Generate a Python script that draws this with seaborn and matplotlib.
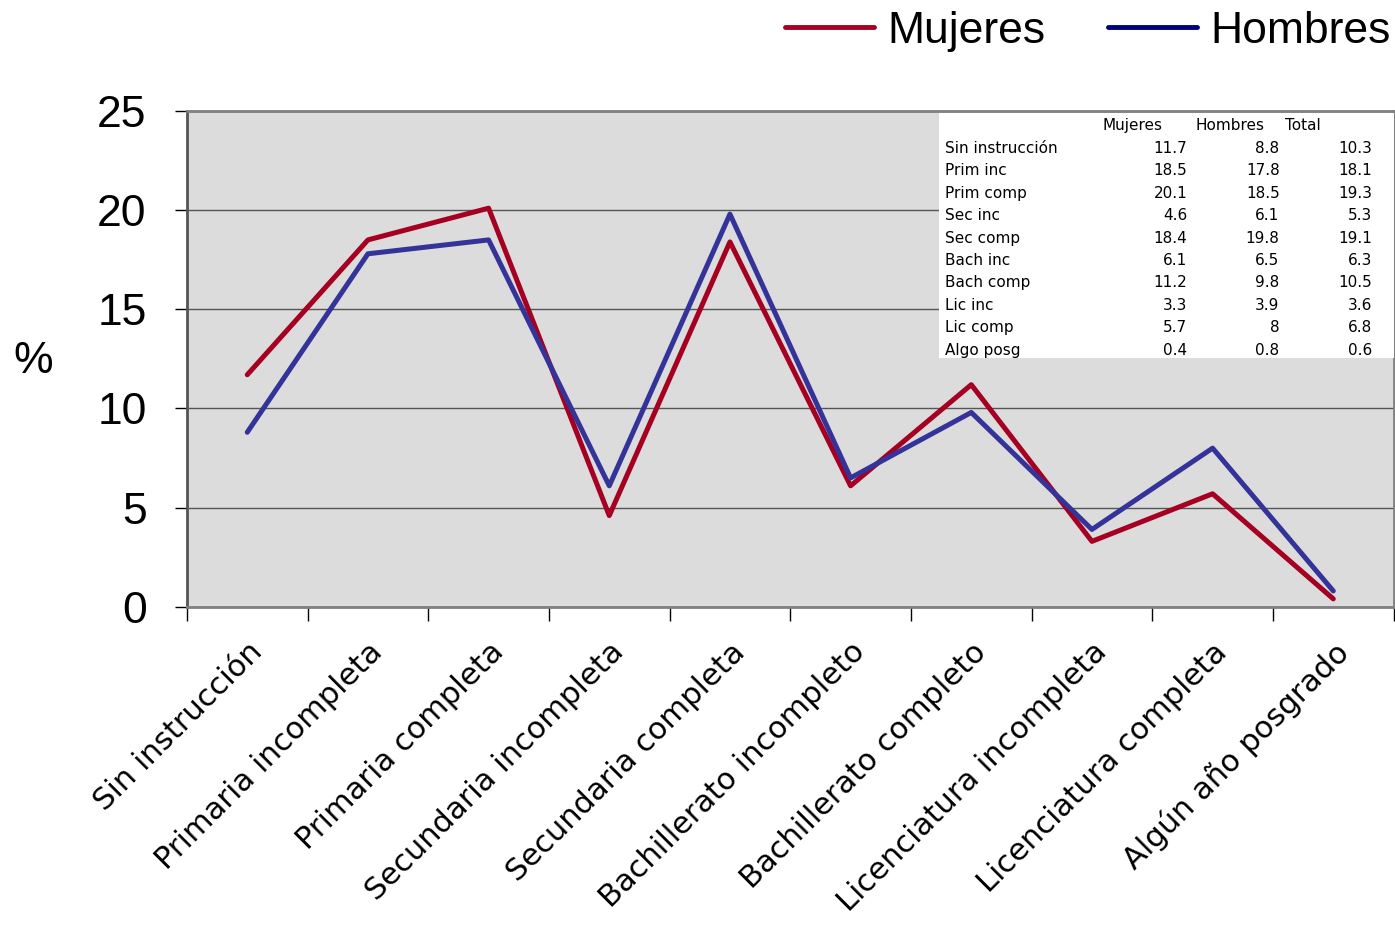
import seaborn as sns
import matplotlib.pyplot as plt
import matplotlib.patches as mpatches
import pandas as pd

categorias = ["Sin instrucción", "Primaria incompleta", "Primaria completa",
              "Secundaria incompleta", "Secundaria completa", "Bachillerato incompleto",
              "Bachillerato completo", "Licenciatura incompleta", "Licenciatura completa",
              "Algún año posgrado"]
abrev = ["Sin instrucción", "Prim inc", "Prim comp", "Sec inc", "Sec comp",
         "Bach inc", "Bach comp", "Lic inc", "Lic comp", "Algo posg"]
mujeres = [11.7, 18.5, 20.1, 4.6, 18.4, 6.1, 11.2, 3.3, 5.7, 0.4]
hombres = [8.8, 17.8, 18.5, 6.1, 19.8, 6.5, 9.8, 3.9, 8.0, 0.8]
total = [10.3, 18.1, 19.3, 5.3, 19.1, 6.3, 10.5, 3.6, 6.8, 0.6]
mujeres_txt = ["11.7", "18.5", "20.1", "4.6", "18.4", "6.1", "11.2", "3.3", "5.7", "0.4"]
hombres_txt = ["8.8", "17.8", "18.5", "6.1", "19.8", "6.5", "9.8", "3.9", "8", "0.8"]
total_txt = ["10.3", "18.1", "19.3", "5.3", "19.1", "6.3", "10.5", "3.6", "6.8", "0.6"]

df = pd.DataFrame({
    "Nivel": categorias * 2,
    "Porcentaje": mujeres + hombres,
    "Sexo": ["Mujeres"] * len(categorias) + ["Hombres"] * len(categorias),
})

sns.set_style("white")
plt.rcParams["font.family"] = ["Liberation Sans", "DejaVu Sans"]
plt.rcParams["text.color"] = "black"
plt.rcParams["xtick.color"] = "black"
plt.rcParams["ytick.color"] = "black"
plt.rcParams["axes.labelcolor"] = "black"

fig = plt.figure(figsize=(13.95, 9.25), dpi=100)
ax = fig.add_axes([0.134, 0.344, 0.865, 0.536])
ax.set_facecolor("#dcdcdc")

colores = {"Mujeres": "#a50021", "Hombres": "#333399"}
sns.lineplot(data=df, x="Nivel", y="Porcentaje", hue="Sexo", palette=colores,
             linewidth=3.6, sort=False, legend=False, ax=ax, zorder=3)

ax.set_xlim(-0.5, len(categorias) - 0.5)
ax.set_ylim(0, 25)
ax.set_yticks([0, 5, 10, 15, 20, 25])
ax.tick_params(axis="y", labelsize=32, length=9, width=1, direction="out", left=True, pad=20)
ax.yaxis.grid(True, color="#555555", linewidth=1)
ax.set_axisbelow(True)

# x ticks: marks at category boundaries, labels at centers
ax.set_xticks(range(len(categorias)))
ax.set_xticklabels(categorias, rotation=45, ha="right", rotation_mode="anchor",
                   fontsize=22, family="DejaVu Sans")
ax.set_xticks([i - 0.5 for i in range(len(categorias) + 1)], minor=True)
ax.tick_params(axis="x", which="major", length=0, pad=22)
ax.tick_params(axis="x", which="minor", length=10, width=1, direction="out", bottom=True)

for s in ax.spines.values():
    s.set_color("#808080")
    s.set_linewidth(2)
ax.spines["left"].set_color("#555555")

ax.set_xlabel("")
ax.set_ylabel("%", fontsize=32, rotation=0, va="center", ha="center")
ax.yaxis.set_label_coords(-0.127, 0.494)

# Inset data table
x0, y0 = 0.623, 0.502
ax.add_patch(mpatches.Rectangle((x0, y0), 1 - x0, 0.494, transform=ax.transAxes,
                                facecolor="white", edgecolor="none", zorder=4))
fs = 11
tf = "DejaVu Sans"
col_x = [0.829, 0.9055, 0.982]
ax.text(0.759, 0.970, "Mujeres", transform=ax.transAxes, fontsize=fs, va="center",
        family=tf, zorder=5)
ax.text(0.836, 0.970, "Hombres", transform=ax.transAxes, fontsize=fs, va="center",
        family=tf, zorder=5)
ax.text(0.910, 0.970, "Total", transform=ax.transAxes, fontsize=fs, va="center",
        family=tf, zorder=5)
for i in range(len(abrev)):
    yy = 0.925 - i * 0.0453
    ax.text(0.628, yy, abrev[i], transform=ax.transAxes, fontsize=fs, va="center",
            family=tf, zorder=5)
    for cx, col in zip(col_x, [mujeres_txt, hombres_txt, total_txt]):
        ax.text(cx, yy, col[i], transform=ax.transAxes, fontsize=fs, va="center",
                ha="right", family=tf, zorder=5)

# Legend above the plot
handles = [plt.Line2D([], [], color="#a50021", linewidth=3.5),
           plt.Line2D([], [], color="#000080", linewidth=3.5)]
fig.legend(handles, ["Mujeres", "Hombres"], loc="upper right", bbox_to_anchor=(1.0, 0.993),
           ncol=2, frameon=False, fontsize=32, handlelength=2.0, columnspacing=1.4,
           handletextpad=0.3, borderpad=0.0, borderaxespad=0.1)

plt.savefig("out.png", dpi=100)
